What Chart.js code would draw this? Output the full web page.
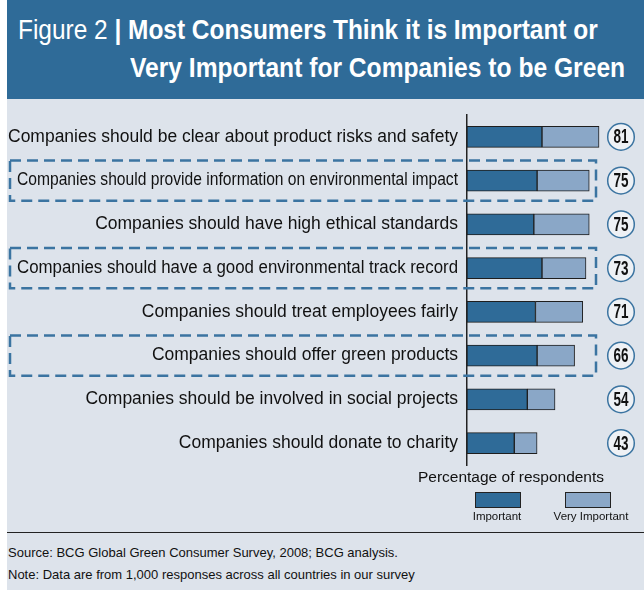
<!DOCTYPE html>
<html>
<head>
<meta charset="utf-8">
<script src="https://cdn.jsdelivr.net/npm/chart.js@4.4.0/dist/chart.umd.min.js"></script>
<style>
  body { margin: 0; width: 644px; height: 590px; overflow: hidden; background: #fff;
         font-family: "Liberation Sans", Arial, sans-serif; }
  #panel { position: absolute; left: 7px; top: 0; width: 637px; height: 590px; background: #dde3eb; }
  #header { position: absolute; left: 7px; top: 0; width: 637px; height: 99px; background: #2f6b98; color: #fff; }
  #header div { position: absolute; font-size: 27px; white-space: nowrap; transform-origin: 0 0; }
  #header .l1 { left: 11px; top: 15px; }
  #header .l2 { left: 123px; top: 53px; font-weight: bold; }
  #header b { font-weight: bold; }
  #wrap { position: absolute; left: 7px; top: 100px; width: 637px; height: 370px; }
  #legtitle { position: absolute; left: 411px; width: 200px; top: 468px; text-align: center; font-size: 15.5px; color: #111; }
  .box { position: absolute; top: 492px; width: 44px; height: 14px; border: 1px solid #222; }
  .lab { position: absolute; top: 510px; width: 100px; text-align: center; font-size: 11.5px; color: #111; }
  #rule { position: absolute; left: 7px; top: 532px; width: 637px; height: 1px; background: #222; }
  #foot { position: absolute; left: 8px; top: 542px; font-size: 13px; line-height: 22px; color: #111; }
</style>
</head>
<body>
<div id="panel"></div>
<div id="header">
  <div class="l1" data-w="580">Figure 2 <b>| Most Consumers Think it is Important or</b></div>
  <div class="l2" data-w="495">Very Important for Companies to be Green</div>
</div>
<div id="wrap"><canvas id="chart"></canvas></div>
<div id="legtitle">Percentage of respondents</div>
<div class="box" style="left:475px; background:#2f6b98;"></div>
<div class="box" style="left:565px; background:#8aa7c7;"></div>
<div class="lab" style="left:447px;">Important</div>
<div class="lab" style="left:541px;">Very Important</div>
<div id="rule"></div>
<div id="foot">Source: BCG Global Green Consumer Survey, 2008; BCG analysis.<br>Note: Data are from 1,000 responses across all countries in our survey</div>
<script>
var statements = [
  'Companies should be clear about product risks and safety',
  'Companies should provide information on environmental impact',
  'Companies should have high ethical standards',
  'Companies should have a good environmental track record',
  'Companies should treat employees fairly',
  'Companies should offer green products',
  'Companies should be involved in social projects',
  'Companies should donate to charity'
];
var important = [46, 43, 41, 46, 42, 43, 37, 29];
var veryImportant = [35, 32, 34, 27, 29, 23, 17, 14];
var totals = [81, 75, 75, 73, 71, 66, 54, 43];
var environmental = [false, true, false, true, false, true, false, false];

var labelFont = '"Liberation Sans", Arial, sans-serif';

// the original title is set in a narrow face, squeeze each line to its width
document.querySelectorAll('#header div').forEach(function (el) {
  el.style.transform = 'scaleX(' + (el.dataset.w / el.scrollWidth) + ')';
});

// category labels (squeezed inside the dashed boxes), dashed boxes and circled totals
var extras = {
  id: 'extras',
  afterDraw: function (chart) {
    var ctx = chart.ctx;
    var y = chart.scales.y;
    var area = chart.chartArea;
    var step = y.getPixelForValue(1) - y.getPixelForValue(0);
    ctx.save();
    for (var i = 0; i < statements.length; i++) {
      var cy = y.getPixelForValue(i);
      var textRight = area.left - 9;

      ctx.fillStyle = '#111';
      ctx.font = '17.5px ' + labelFont;
      ctx.textAlign = 'right';
      ctx.textBaseline = 'middle';
      ctx.fillText(statements[i], textRight, cy, environmental[i] ? textRight - 10 : textRight - 1);

      if (environmental[i]) {
        ctx.setLineDash([11, 6]);
        ctx.lineWidth = 2.5;
        ctx.strokeStyle = '#3b74a1';
        ctx.strokeRect(3, cy - step * 0.46, area.left + 126, step * 0.92);
        ctx.setLineDash([]);
      }

      var cx = area.right - 9;
      ctx.beginPath();
      ctx.arc(cx, cy, 13.3, 0, Math.PI * 2);
      ctx.fillStyle = '#eef1f5';
      ctx.fill();
      ctx.lineWidth = 1.5;
      ctx.strokeStyle = '#3b74a1';
      ctx.stroke();
      ctx.fillStyle = '#111';
      ctx.font = 'bold 20px ' + labelFont;
      ctx.textAlign = 'center';
      ctx.fillText(totals[i], cx, cy + 1, 15);
    }
    ctx.restore();
  }
};

const ctx = document.getElementById('chart');
var chart = new Chart(ctx, {
  type: 'bar',
  data: {
    labels: statements,
    datasets: [{
      label: 'Important',
      data: important,
      backgroundColor: '#2f6b98',
      borderColor: '#1e1e1e',
      borderWidth: 1,
      borderSkipped: false,
      barThickness: 21
    }, {
      label: 'Very Important',
      data: veryImportant,
      backgroundColor: '#8aa7c7',
      borderColor: '#1e1e1e',
      borderWidth: 1,
      borderSkipped: false,
      barThickness: 21
    }]
  },
  options: {
    indexAxis: 'y',
    responsive: true,
    maintainAspectRatio: false,
    animation: false,
    layout: { padding: { top: 15, bottom: 5, right: 14 } },
    plugins: { legend: { display: false }, tooltip: { enabled: false } },
    scales: {
      x: { stacked: true, min: 0, max: 100, display: false },
      y: {
        stacked: true,
        afterFit: function (s) { s.width = 460; },
        grid: { display: false, drawTicks: false },
        border: { display: true, color: '#222', width: 1.5 },
        ticks: { display: false }
      }
    }
  },
  plugins: [extras]
});
</script>
</body>
</html>
